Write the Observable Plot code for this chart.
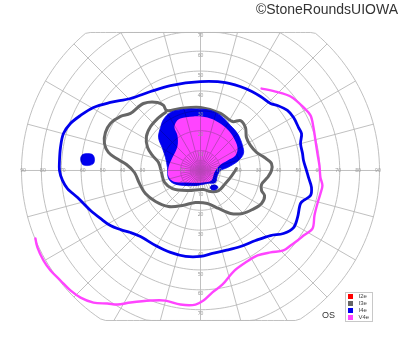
<!DOCTYPE html>
<html><head><meta charset="utf-8">
<script src="https://cdn.jsdelivr.net/npm/d3@7"></script>
<script src="https://cdn.jsdelivr.net/npm/@observablehq/plot@0.6"></script>
<style>
body{margin:0;background:#fff;font-family:"Liberation Sans",Arial,sans-serif;}
#wrap{position:relative;width:400px;height:352px;overflow:hidden;}
#credit{position:absolute;right:2px;top:0px;font-size:14px;color:#333;line-height:18px;white-space:nowrap;}
#eye{position:absolute;left:322px;top:311px;font-size:9px;line-height:9px;color:#333;}
#legend{position:absolute;left:345px;top:292px;width:28px;height:30px;border:1px solid #c8c8c8;box-sizing:border-box;background:#fff;}
.row{position:absolute;left:1.5px;height:6px;font-size:6px;line-height:5px;color:#444;}
.sw{position:absolute;left:0;top:0;width:5px;height:5px;}
.lab{position:absolute;left:11px;top:0;white-space:nowrap;}
</style></head>
<body>
<div id="wrap"><div id="chart"></div>
<div id="credit">©StoneRoundsUIOWA</div>
<div id="eye">OS</div>
<div id="legend"></div>
</div>
<script>
// ---- data (degrees of visual field: horizontal / vertical eccentricity) ----
const isopterNames = ["I2e","I3e","I4e","V4e"];
const isopterColors = ["#ff0000","#666666","#0000ee","#ff44ff"];
const eyeLabel = "OS";
const ringEcc = [5,10,20,30,40,50,60,70,80,90];
const meridians = d3.range(0,360,15);
const tickValues = [10,20,30,40,50,60,70,80,90];

const v4eX = [30.7,37.7,45.3,51.8,55.3,56.8,57.8,58.8,59.8,60.3,61.3,60.3,58.8,57.3,56.3,51.8,48.8,45.3,41.7,35.2,28.7,22.6,16.6,11.1,6.0,1.5,-2.5,-10.1,-17.6,-25.1,-35.2,-41.7,-46.8,-53.8,-60.3,-65.4,-70.4,-75.4,-78.9,-82.0,-83.0];
const v4eY = [41.2,39.7,37.2,31.7,27.7,21.6,15.1,8.5,2.5,-3.5,-7.5,-11.6,-16.6,-22.6,-29.2,-32.7,-35.2,-37.7,-40.2,-41.2,-42.7,-46.3,-50.8,-57.3,-61.3,-65.4,-67.4,-67.4,-65.4,-65.4,-66.4,-67.4,-66.9,-66.4,-63.9,-60.3,-55.3,-50.3,-45.3,-38.7,-34.2];

const i4eX = [-70.9,-70.9,-70.4,-68.9,-65.4,-60.3,-53.8,-45.3,-35.2,-25.1,-15.1,0,12.6,22.6,30.2,35.2,38.7,43.7,46.8,49.3,50.8,50.3,51.3,51.8,53.3,54.3,55.8,55.3,51.8,50.3,48.8,46.8,41.7,35.2,27.7,20.1,12.6,6.0,0,-7.5,-15.1,-22.6,-30.2,-35.2,-40.2,-45.3,-50.3,-55.3,-58.8,-61.8,-66.9,-69.4];
const i4eY = [0,5.0,11.6,18.6,23.6,27.7,31.7,34.2,36.2,39.7,42.7,44.7,44.2,41.2,37.2,33.7,32.7,30.2,26.6,21.6,18.6,13.6,8.5,5.0,0,-3.5,-8.5,-12.6,-15.1,-16.6,-23.6,-28.7,-31.7,-32.7,-35.2,-38.2,-40.2,-41.7,-43.2,-43.2,-41.2,-37.7,-33.2,-31.2,-29.7,-27.7,-24.1,-20.1,-16.6,-13.6,-9.1,-5.0];

const i4eIslandX = [-60.3,-59.3,-56.8,-54.3,-53.3,-53.8,-56.3,-59.3];
const i4eIslandY = [6.0,8.0,8.5,8.0,6.0,3.5,2.5,3.0];

const i4eCentralX = [-15.1,-8.5,-1.5,5.0,10.1,15.1,18.6,21.1,21.6,19.1,13.6,10.1,8.5,7.5,3.5,-1.5,-8.5,-13.6,-16.1,-16.6,-17.6,-19.1,-21.1,-20.1,-18.6];
const i4eCentralY = [29.2,30.7,30.9,30.2,27.7,22.6,18.6,12.6,8.5,5.0,1.5,0,-2.5,-6.0,-6.5,-7.5,-7.5,-6.5,-4.0,1.5,6.5,11.1,16.6,21.6,25.6];

const i4eSpotX = [4.8,5.5,7.5,8.8,8.0,6.0];
const i4eSpotY = [-8.8,-7.5,-7.3,-8.3,-9.5,-9.8];

const v4eCentralX = [-10.1,-3.5,3.5,9.1,13.6,16.6,18.6,17.6,13.6,9.6,7.0,5.5,1.0,-6.5,-13.6,-16.1,-16.1,-14.1,-11.6,-11.6,-13.1,-12.1];
const v4eCentralY = [26.1,27.2,26.6,24.1,20.6,16.6,11.6,7.5,5.0,2.5,-1.0,-5.0,-6.0,-6.0,-5.5,-3.0,1.5,6.5,12.1,17.6,21.6,24.6];

const i3eOuterX = [-35.2,-28.7,-21.6,-18.6,-17.1,-10.1,0,10.1,16.1,20.1,22.6,23.1,25.1,28.2,32.2,35.7,35.7,33.7,30.7,30.7,32.2,30.7,26.1,21.1,15.1,9.1,3.5,-2.5,-9.1,-16.1,-22.6,-27.7,-30.7,-33.2,-37.2,-42.2,-46.3,-48.3,-47.8,-45.3,-40.2];
const i3eOuterY = [28.7,33.7,34.2,32.7,30.2,31.2,31.7,28.7,24.6,25.1,21.6,16.6,12.6,9.1,6.5,3.5,0,-3.5,-7.0,-10.1,-12.6,-16.6,-19.6,-21.6,-21.6,-19.1,-16.6,-16.1,-17.6,-18.1,-15.6,-11.6,-6.5,-1.0,3.0,6.0,9.1,13.6,19.1,23.6,27.2];

const i3eInnerX = [-17.6,-21.6,-25.1,-27.2,-26.6,-24.1,-21.1,-19.6,-18.1,-14.1,-6.5,1.5,5.0,9.1,12.1,15.1,18.1];
const i3eInnerY = [29.2,26.1,22.1,17.1,11.6,7.5,4.0,-1.0,-6.0,-9.1,-10.1,-9.6,-10.6,-10.1,-7.0,-3.5,1.0];

// ---- helpers ----
const pts = (xs, ys) => xs.map((x, i) => ({x, y: ys[i]}));
const topLim = 69.39, botLim = -75.42;
const rad = a => a * Math.PI / 180;

const circlePts = ringEcc.flatMap(r => d3.range(0, 361, 2).map(a => ({
  r, x: r * Math.cos(rad(a)),
  y: Math.max(botLim, Math.min(topLim, r * Math.sin(rad(a))))
})));
const spoke = (a, R0) => {
  const s = Math.sin(rad(a)), c = Math.cos(rad(a));
  let R = R0;
  if (s > 1e-9) R = Math.min(R, topLim / s);
  if (s < -1e-9) R = Math.min(R, botLim / s);
  return {x1: 0, y1: 0, x2: R * c, y2: R * s};
};
const spokes = meridians.map(a => spoke(a, 90)).concat(d3.range(7.5, 360, 15).map(a => spoke(a, 10)));

const hLabels = tickValues.flatMap(v => [{x: v - 0.8, y: 0, t: String(v)}, {x: -(v - 0.8), y: 0, t: String(v)}]);
const vLabels = tickValues.flatMap(v => [{x: 0, y: v, t: String(v)}, {x: 0, y: -v, t: String(v)}])
  .filter(d => d.y <= topLim + 1 && d.y >= botLim + 2);

const col = Object.fromEntries(isopterNames.map((n, i) => [n, isopterColors[i]]));

const chart = Plot.plot({
  width: 400, height: 352,
  marginLeft: 21, marginRight: 21, marginTop: 0, marginBottom: 0,
  x: {domain: [-90, 90], axis: null},
  y: {domain: [-91.51, 85.475], axis: null},
  style: {background: "transparent", overflow: "visible"},
  marks: [
    Plot.line(pts(i3eOuterX, i3eOuterY), {x: "x", y: "y", curve: "catmull-rom-closed", stroke: col.I3e, strokeWidth: 3}),
    Plot.line(pts(i3eInnerX, i3eInnerY), {x: "x", y: "y", curve: "catmull-rom", stroke: col.I3e, strokeWidth: 3}),
    Plot.line(pts(i4eCentralX, i4eCentralY), {x: "x", y: "y", curve: "catmull-rom-closed", fill: col.I4e, stroke: col.I4e, strokeWidth: 0.8}),
    Plot.line(pts(v4eCentralX, v4eCentralY), {x: "x", y: "y", curve: "catmull-rom-closed", fill: col.V4e, stroke: "none"}),
    Plot.line(pts(i4eIslandX, i4eIslandY), {x: "x", y: "y", curve: "catmull-rom-closed", fill: col.I4e, stroke: col.I4e, strokeWidth: 0.6}),
    Plot.line(pts(i4eSpotX, i4eSpotY), {x: "x", y: "y", curve: "catmull-rom-closed", fill: col.I4e, stroke: col.I4e, strokeWidth: 0.6}),
    Plot.line(circlePts, {x: "x", y: "y", z: "r", stroke: "#b9b9b9", strokeWidth: 0.9, mixBlendMode: "darken"}),
    Plot.link(spokes, {x1: "x1", y1: "y1", x2: "x2", y2: "y2", stroke: "#b9b9b9", strokeWidth: 0.9, mixBlendMode: "darken"}),
    Plot.text(hLabels, {x: "x", y: "y", text: "t", fontSize: 5, fill: "#9a9a9a"}),
    Plot.text(vLabels, {x: "x", y: "y", text: "t", fontSize: 5, fill: "#9a9a9a", dy: 4}),
    Plot.line(pts(i4eX, i4eY), {x: "x", y: "y", curve: "catmull-rom-closed", stroke: col.I4e, strokeWidth: 2.8}),
    Plot.line(pts(v4eX, v4eY), {x: "x", y: "y", curve: "catmull-rom", stroke: col.V4e, strokeWidth: 2.4})
  ]
});
document.getElementById("chart").appendChild(chart);
document.getElementById("eye").textContent = eyeLabel;

const leg = document.getElementById("legend");
isopterNames.forEach((n, i) => {
  const row = document.createElement("div");
  row.className = "row";
  row.style.top = (0.5 + 7 * i) + "px";
  row.innerHTML = `<span class="sw" style="background:${isopterColors[i]}"></span><span class="lab">${n}</span>`;
  leg.appendChild(row);
});
</script>
</body></html>
